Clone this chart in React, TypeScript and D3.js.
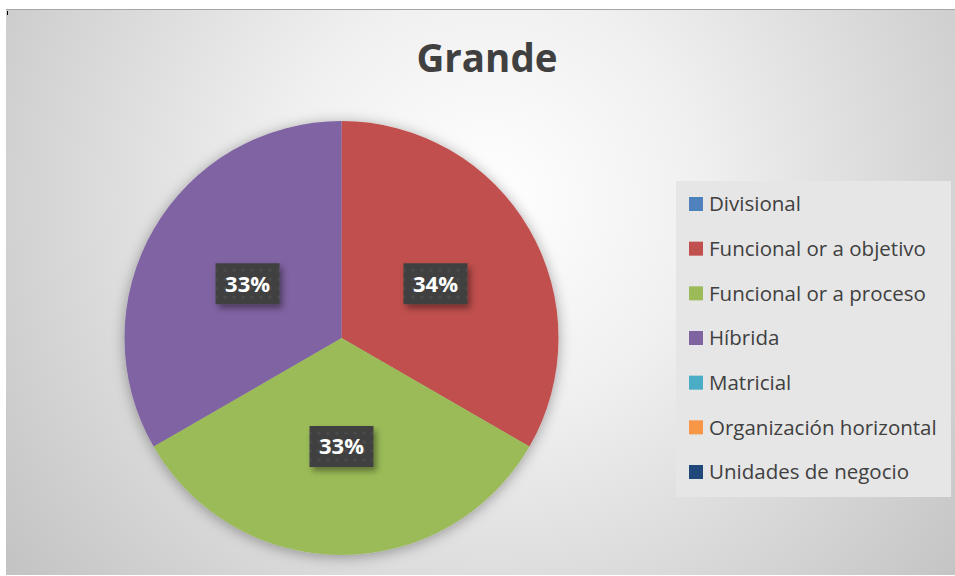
import React, { useEffect, useRef } from "react";
import * as d3 from "d3";

const categories = [
  "Divisional",
  "Funcional or a objetivo",
  "Funcional or a proceso",
  "Híbrida",
  "Matricial",
  "Organización horizontal",
  "Unidades de negocio",
];
// equal counts for the three used structures; Excel's rounded labels shown as printed
const values = [0, 1, 1, 1, 0, 0, 0];
const pctLabels = ["0%", "34%", "33%", "33%", "0%", "0%", "0%"];
const colors = ["#4F81BD", "#C0504D", "#9BBB59", "#8064A2", "#4BACC6", "#F79646", "#1F497D"];
const title = "Grande";

const W = 955;
const H = 576;

function PieChart() {
  const ref = useRef<SVGSVGElement>(null);

  useEffect(() => {
    const svg = d3.select(ref.current);
    svg.selectAll("*").remove();

    const font = "'Open Sans', 'Noto Sans', sans-serif";
    const defs = svg.append("defs");

    // background radial gradient
    const grad = defs.append("radialGradient")
      .attr("id", "bg")
      .attr("gradientUnits", "userSpaceOnUse")
      .attr("cx", 490).attr("cy", 200).attr("r", 600);
    grad.append("stop").attr("offset", 0).attr("stop-color", "#ffffff");
    grad.append("stop").attr("offset", 0.35).attr("stop-color", "#f0f0f0");
    grad.append("stop").attr("offset", 1).attr("stop-color", "#c4c4c4");

    const shadow = defs.append("filter").attr("id", "shadow")
      .attr("x", "-20%").attr("y", "-20%").attr("width", "140%").attr("height", "140%");
    shadow.append("feDropShadow")
      .attr("dx", 0).attr("dy", 2).attr("stdDeviation", 7)
      .attr("flood-color", "#000").attr("flood-opacity", 0.35);

    const lblShadow = defs.append("filter").attr("id", "lblShadow")
      .attr("x", "-30%").attr("y", "-30%").attr("width", "160%").attr("height", "160%");
    lblShadow.append("feDropShadow")
      .attr("dx", 3).attr("dy", 4).attr("stdDeviation", 3)
      .attr("flood-color", "#000").attr("flood-opacity", 0.4);

    const pat = defs.append("pattern").attr("id", "dots")
      .attr("patternUnits", "userSpaceOnUse").attr("width", 9).attr("height", 9);
    pat.append("rect").attr("width", 9).attr("height", 9).attr("fill", "#404040");
    pat.append("circle").attr("cx", 4.5).attr("cy", 4.5).attr("r", 1.6).attr("fill", "#4c4c4c");

    // chart area
    svg.append("rect")
      .attr("x", 6).attr("y", 9).attr("width", W - 6).attr("height", 566)
      .attr("fill", "url(#bg)");
    svg.append("line")
      .attr("x1", 6).attr("x2", W).attr("y1", 9.5).attr("y2", 9.5)
      .attr("stroke", "#a6a6a6").attr("stroke-width", 1);
    svg.append("line")
      .attr("x1", 7.5).attr("x2", 7.5).attr("y1", 11).attr("y2", 15)
      .attr("stroke", "#000").attr("stroke-width", 1);

    // title
    svg.append("text")
      .attr("x", 487).attr("y", 72)
      .attr("text-anchor", "middle")
      .attr("font-family", font)
      .attr("font-weight", "bold")
      .attr("font-size", 38.5)
      .attr("fill", "#404040")
      .text(title);

    // pie
    const cx = 341.5;
    const cy = 338;
    const R = 217;
    const data = categories.map((c, i) => ({ name: c, value: values[i], color: colors[i], label: pctLabels[i] }));
    const pie = d3.pie<any>().sort(null).value(d => d.value);
    const arcs = pie(data).filter(a => a.data.value > 0);
    const arc = d3.arc<any>().innerRadius(0).outerRadius(R);

    const g = svg.append("g").attr("transform", `translate(${cx},${cy})`);
    g.append("g").attr("filter", "url(#shadow)")
      .selectAll("path")
      .data(arcs)
      .join("path")
      .attr("d", arc)
      .attr("fill", d => d.data.color);

    const labels = g.selectAll("g.lbl")
      .data(arcs)
      .join("g")
      .attr("class", "lbl")
      .attr("transform", d => `translate(${arc.centroid(d)})`);
    labels.append("rect")
      .attr("x", -32).attr("y", -20.5).attr("width", 64).attr("height", 41)
      .attr("fill", "url(#dots)")
      .attr("filter", "url(#lblShadow)");
    labels.append("text")
      .attr("text-anchor", "middle")
      .attr("dy", "0.36em")
      .attr("font-family", font)
      .attr("font-weight", "bold")
      .attr("font-size", 22)
      .attr("fill", "#ffffff")
      .text(d => d.data.label);

    // legend
    svg.append("rect")
      .attr("x", 676).attr("y", 181).attr("width", 275).attr("height", 316)
      .attr("fill", "#e6e6e6");
    const ly = d3.scalePoint<string>().domain(categories).range([204, 472]);
    const leg = svg.selectAll("g.leg")
      .data(data)
      .join("g")
      .attr("class", "leg")
      .attr("transform", d => `translate(689,${ly(d.name)})`);
    leg.append("rect")
      .attr("x", 0).attr("y", -7).attr("width", 14).attr("height", 14)
      .attr("fill", d => d.color);
    leg.append("text")
      .attr("x", 20).attr("dy", "0.36em")
      .attr("font-family", font)
      .attr("font-size", 20.5)
      .attr("fill", "#404040")
      .text(d => d.name);
  }, []);

  return (
    <svg ref={ref} width={W} height={H} style={{ position: "absolute", left: 0, top: 0 }} />
  );
}

export default function App() {
  return <PieChart />;
}
